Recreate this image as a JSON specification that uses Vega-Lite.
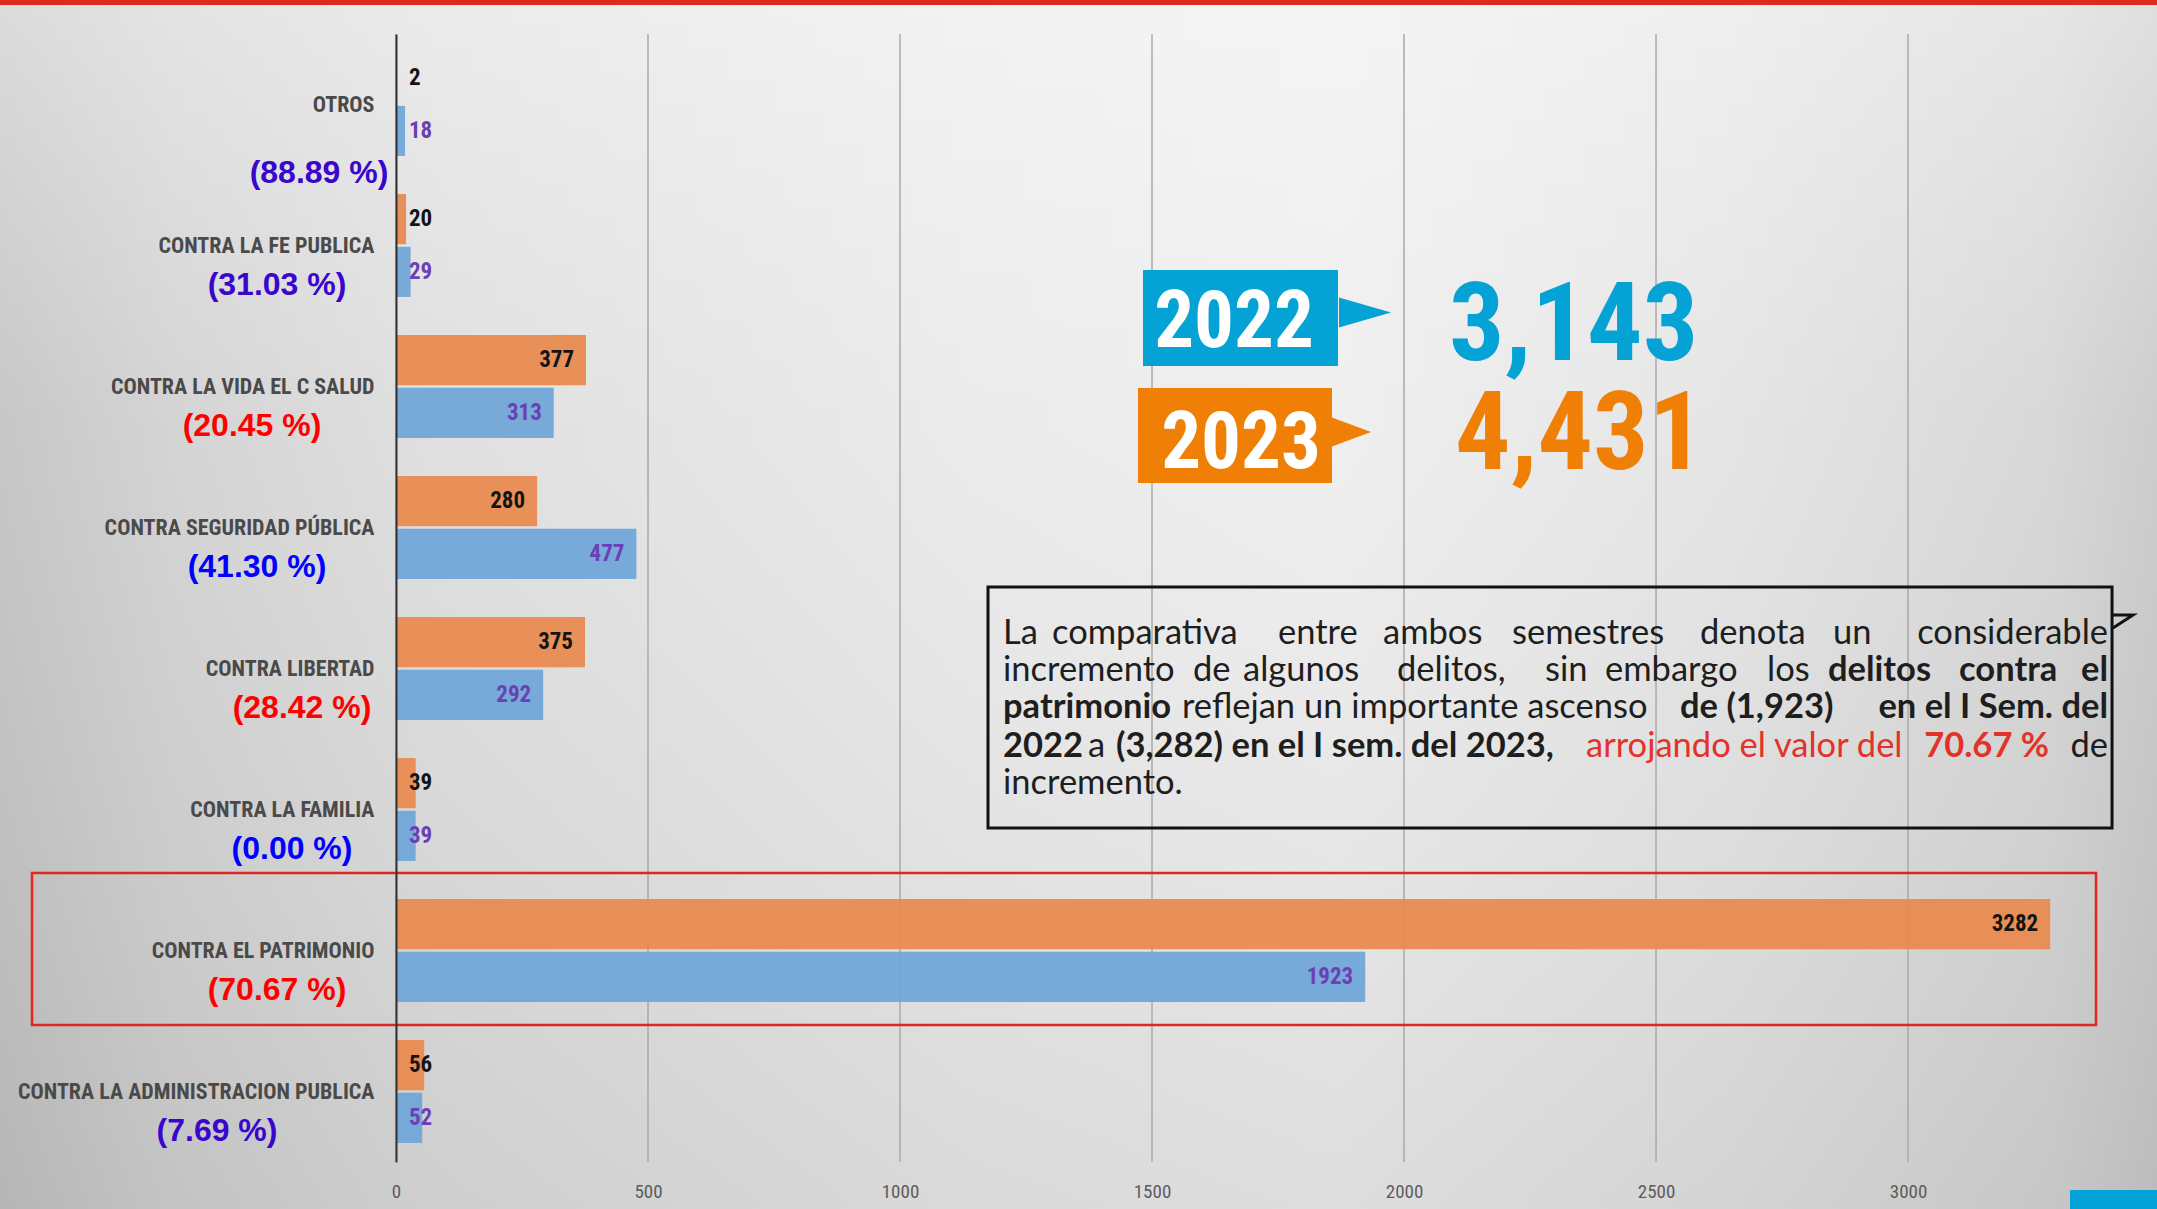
{
  "$schema": "https://vega.github.io/schema/vega-lite/v6.json",
  "width": 1761,
  "height": 1128,
  "autosize": "none",
  "padding": {"left": 396, "top": 34, "right": 0, "bottom": 47},
  "background": "#d9d9d9",
  "config": {
    "view": {"stroke": null},
    "axisX": {"grid": false, "domain": false, "ticks": false, "tickCount": 7, "labelPadding": 20, "labelFontSize": 19, "labelFont": "Roboto Condensed, Roboto, sans-serif", "labelColor": "#5c5c5c", "labelFlush": false, "format": "d"}
  },
  "datasets": {
    "delitos": [
      {"delito": "OTROS", "anio": "2023", "casos": 2},
      {"delito": "OTROS", "anio": "2022", "casos": 18},
      {"delito": "CONTRA LA FE PUBLICA", "anio": "2023", "casos": 20},
      {"delito": "CONTRA LA FE PUBLICA", "anio": "2022", "casos": 29},
      {"delito": "CONTRA LA VIDA EL C SALUD", "anio": "2023", "casos": 377},
      {"delito": "CONTRA LA VIDA EL C SALUD", "anio": "2022", "casos": 313},
      {"delito": "CONTRA SEGURIDAD PÚBLICA", "anio": "2023", "casos": 280},
      {"delito": "CONTRA SEGURIDAD PÚBLICA", "anio": "2022", "casos": 477},
      {"delito": "CONTRA LIBERTAD", "anio": "2023", "casos": 375},
      {"delito": "CONTRA LIBERTAD", "anio": "2022", "casos": 292},
      {"delito": "CONTRA LA FAMILIA", "anio": "2023", "casos": 39},
      {"delito": "CONTRA LA FAMILIA", "anio": "2022", "casos": 39},
      {"delito": "CONTRA EL PATRIMONIO", "anio": "2023", "casos": 3282},
      {"delito": "CONTRA EL PATRIMONIO", "anio": "2022", "casos": 1923},
      {"delito": "CONTRA LA ADMINISTRACION PUBLICA", "anio": "2023", "casos": 56},
      {"delito": "CONTRA LA ADMINISTRACION PUBLICA", "anio": "2022", "casos": 52}
    ],
    "categorias": [
      {"delito": "OTROS", "variacion": "(88.89 %)"},
      {"delito": "CONTRA LA FE PUBLICA", "variacion": "(31.03 %)"},
      {"delito": "CONTRA LA VIDA EL C SALUD", "variacion": "(20.45 %)"},
      {"delito": "CONTRA SEGURIDAD PÚBLICA", "variacion": "(41.30 %)"},
      {"delito": "CONTRA LIBERTAD", "variacion": "(28.42 %)"},
      {"delito": "CONTRA LA FAMILIA", "variacion": "(0.00 %)"},
      {"delito": "CONTRA EL PATRIMONIO", "variacion": "(70.67 %)"},
      {"delito": "CONTRA LA ADMINISTRACION PUBLICA", "variacion": "(7.69 %)"}
    ],
    "escala": [{"valor": 0}, {"valor": 500}, {"valor": 1000}, {"valor": 1500}, {"valor": 2000}, {"valor": 2500}, {"valor": 3000}],
    "vacio": [{}]
  },
  "layer": [
    {
      "data": {"name": "vacio"},
      "mark": {"type": "rect", "stroke": null, "fill": {"gradient": "linear", "x1": 0, "y1": 0, "x2": 1, "y2": 0, "stops": [
        {"offset": 0, "color": "#c4c4c4"}, {"offset": 0.08, "color": "#d2d2d2"}, {"offset": 0.2, "color": "#dedede"},
        {"offset": 0.45, "color": "#eaeaea"}, {"offset": 0.62, "color": "#eeeeee"}, {"offset": 0.8, "color": "#e4e4e4"},
        {"offset": 0.95, "color": "#d6d6d6"}, {"offset": 1, "color": "#cacaca"}]}},
      "encoding": {
        "x": {"datum": -785.7, "type": "quantitative", "scale": {"domain": [0, 3494], "nice": false}, "title": null,
          "axis": {"orient": "bottom", "zindex": 1, "values": [0, 500, 1000, 1500, 2000, 2500, 3000, 3500], "format": "d", "labelFlush": false, "grid": false, "domain": false, "ticks": false, "labelPadding": 20, "labelFontSize": 19, "labelFont": "Roboto Condensed, Roboto, sans-serif", "labelColor": "#5c5c5c"}},
        "x2": {"datum": 3494},
        "y": {"datum": -0.2411, "type": "quantitative", "scale": {"domain": [0, 8], "reverse": true, "nice": false, "zero": false}, "axis": null},
        "y2": {"datum": 8.3333}
      }
    },
    {
      "data": {"name": "vacio"},
      "mark": {"type": "rect", "stroke": null, "fill": {"gradient": "linear", "x1": 0, "y1": 0, "x2": 0, "y2": 1, "stops": [
        {"offset": 0, "color": "rgba(255,255,255,0.4)"}, {"offset": 0.35, "color": "rgba(255,255,255,0.05)"},
        {"offset": 1, "color": "rgba(0,0,0,0.07)"}]}},
      "encoding": {
        "x": {"datum": -785.7, "type": "quantitative", "scale": {"domain": [0, 3494], "nice": false}, "title": null},
        "x2": {"datum": 3494},
        "y": {"datum": -0.2411, "type": "quantitative", "scale": {"domain": [0, 8], "reverse": true, "nice": false, "zero": false}, "axis": null},
        "y2": {"datum": 8.3333}
      }
    },
    {
      "data": {"name": "escala"},
      "mark": {"type": "rule", "color": "#a9a9a9", "strokeWidth": 1.5},
      "encoding": {
        "x": {"field": "valor", "type": "quantitative", "scale": {"domain": [0, 3494], "nice": false}, "title": null},
        "y": {"datum": 0, "type": "quantitative", "scale": {"domain": [0, 8], "reverse": true, "nice": false, "zero": false}, "axis": null},
        "y2": {"datum": 8}
      }
    },
    {
      "data": {"name": "delitos"},
      "encoding": {
        "y": {"field": "delito", "type": "nominal",
          "scale": {"domain": ["OTROS", "CONTRA LA FE PUBLICA", "CONTRA LA VIDA EL C SALUD", "CONTRA SEGURIDAD PÚBLICA", "CONTRA LIBERTAD", "CONTRA LA FAMILIA", "CONTRA EL PATRIMONIO", "CONTRA LA ADMINISTRACION PUBLICA"], "paddingInner": 0.27, "paddingOuter": 0.135},
          "axis": {"title": null, "ticks": false, "domain": true, "domainColor": "#333333", "domainWidth": 2, "labelPadding": 22, "labelFontSize": 22, "labelFont": "Roboto Condensed, Roboto, sans-serif", "labelFontWeight": "bold", "labelColor": "#4a4a4a", "labelLimit": 0, "zindex": 1}}
      },
      "layer": [
        {
          "mark": {"type": "bar", "opacity": 0.93},
          "encoding": {
            "x": {"field": "casos", "type": "quantitative", "scale": {"domain": [0, 3494], "nice": false}, "title": null,
              "axis": {"orient": "bottom", "zindex": 1, "values": [0, 500, 1000, 1500, 2000, 2500, 3000, 3500], "format": "d", "labelFlush": false, "grid": false, "domain": false, "ticks": false, "labelPadding": 20, "labelFontSize": 19, "labelFont": "Roboto Condensed, Roboto, sans-serif", "labelColor": "#5c5c5c"}},
            "yOffset": {"field": "anio", "type": "nominal", "scale": {"domain": ["2023", "2022"], "paddingInner": 0.05}},
            "color": {"field": "anio", "type": "nominal", "scale": {"domain": ["2023", "2022"], "range": ["#E98A4D", "#6FA5D8"]}, "legend": null}
          }
        },
        {
          "transform": [{"filter": "datum.casos >= 100"}],
          "mark": {"type": "text", "align": "right", "baseline": "middle", "dx": -12, "fontSize": 23, "fontWeight": "bold", "font": "Roboto Condensed, Roboto, sans-serif"},
          "encoding": {
            "x": {"field": "casos", "type": "quantitative", "scale": {"domain": [0, 3494], "nice": false}, "title": null},
            "yOffset": {"field": "anio", "type": "nominal", "scale": {"domain": ["2023", "2022"], "paddingInner": 0.05}},
            "text": {"field": "casos", "type": "quantitative"},
            "color": {"field": "anio", "type": "nominal", "scale": {"domain": ["2023", "2022"], "range": ["#141414", "#6b40b5"]}, "legend": null}
          }
        },
        {
          "transform": [{"filter": "datum.casos < 100"}],
          "mark": {"type": "text", "align": "left", "baseline": "middle", "dx": 13, "fontSize": 23, "fontWeight": "bold", "font": "Roboto Condensed, Roboto, sans-serif"},
          "encoding": {
            "x": {"datum": 0, "type": "quantitative", "scale": {"domain": [0, 3494], "nice": false}, "title": null},
            "yOffset": {"field": "anio", "type": "nominal", "scale": {"domain": ["2023", "2022"], "paddingInner": 0.05}},
            "text": {"field": "casos", "type": "quantitative"},
            "color": {"field": "anio", "type": "nominal", "scale": {"domain": ["2023", "2022"], "range": ["#141414", "#6b40b5"]}, "legend": null}
          }
        },
        {
          "data": {"name": "categorias"},
          "transform": [{"filter": "datum.delito != 'OTROS'"}],
          "mark": {"type": "text", "align": "center", "baseline": "middle", "dy": 39, "dx": {"expr": "-19 - length(datum.delito) * 5"}, "fontSize": 32, "fontWeight": "bold", "font": "Liberation Sans, Arial, sans-serif"},
          "encoding": {
            "x": {"datum": 0, "type": "quantitative", "scale": {"domain": [0, 3494], "nice": false}, "title": null},
            "text": {"field": "variacion", "type": "nominal"},
            "color": {"field": "delito", "type": "nominal", "scale": {"domain": ["OTROS", "CONTRA LA FE PUBLICA", "CONTRA LA VIDA EL C SALUD", "CONTRA SEGURIDAD PÚBLICA", "CONTRA LIBERTAD", "CONTRA LA FAMILIA", "CONTRA EL PATRIMONIO", "CONTRA LA ADMINISTRACION PUBLICA"], "range": ["#3a06cc", "#3a06cc", "#ff0000", "#0000ff", "#ff0000", "#0000ff", "#ff0000", "#3a06cc"]}, "legend": null}
          }
        },
        {
          "data": {"name": "categorias"},
          "transform": [{"filter": "datum.delito == 'OTROS'"}],
          "mark": {"type": "text", "align": "center", "baseline": "middle", "dy": 68, "dx": -77, "fontSize": 32, "fontWeight": "bold", "font": "Liberation Sans, Arial, sans-serif", "color": "#3a06cc"},
          "encoding": {
            "x": {"datum": 0, "type": "quantitative", "scale": {"domain": [0, 3494], "nice": false}, "title": null},
            "text": {"field": "variacion", "type": "nominal"}
          }
        }
      ],
      "resolve": {"scale": {"color": "independent"}}
    },
    {
      "data": {"name": "vacio"},
      "mark": {"type": "rect", "fillOpacity": 0, "stroke": "#e0261f", "strokeWidth": 2.5},
      "encoding": {
        "x": {"datum": -722.2, "type": "quantitative", "scale": {"domain": [0, 3494], "nice": false}, "title": null},
        "x2": {"datum": 3373},
        "y": {"datum": 5.95, "type": "quantitative", "scale": {"domain": [0, 8], "reverse": true, "nice": false, "zero": false}, "axis": null},
        "y2": {"datum": 7.028}
      }
    },
    {
      "data": {"name": "vacio"},
      "mark": {"type": "rect", "fillOpacity": 0, "stroke": "#111111", "strokeWidth": 3},
      "encoding": {
        "x": {"datum": 1174.6, "type": "quantitative", "scale": {"domain": [0, 3494], "nice": false}, "title": null},
        "x2": {"datum": 3404.8},
        "y": {"datum": 3.922, "type": "quantitative", "scale": {"domain": [0, 8], "reverse": true, "nice": false, "zero": false}, "axis": null},
        "y2": {"datum": 5.631}
      }
    },
    {
      "data": {"name": "vacio"},
      "mark": {"type": "point", "shape": "M-0.62,-0.46L1,-0.46L-0.54,0.54", "size": 676, "filled": false, "stroke": "#111111", "strokeWidth": 3, "opacity": 1},
      "encoding": {
        "x": {"datum": 3420.6, "type": "quantitative", "scale": {"domain": [0, 3494], "nice": false}, "title": null},
        "y": {"datum": 4.163, "type": "quantitative", "scale": {"domain": [0, 8], "reverse": true, "nice": false, "zero": false}, "axis": null}
      }
    },
    {
      "data": {"name": "vacio"},
      "mark": {"type": "rect", "color": "#05a2d6"},
      "encoding": {
        "x": {"datum": 1482.1, "type": "quantitative", "scale": {"domain": [0, 3494], "nice": false}, "title": null},
        "x2": {"datum": 1869},
        "y": {"datum": 1.674, "type": "quantitative", "scale": {"domain": [0, 8], "reverse": true, "nice": false, "zero": false}, "axis": null},
        "y2": {"datum": 2.355}
      }
    },
    {
      "data": {"name": "vacio"},
      "mark": {"type": "point", "shape": "M-1,-0.58L1,0L-1,0.58Z", "size": 2704, "filled": true, "color": "#05a2d6", "opacity": 1},
      "encoding": {
        "x": {"datum": 1922.6, "type": "quantitative", "scale": {"domain": [0, 3494], "nice": false}, "title": null},
        "y": {"datum": 1.975, "type": "quantitative", "scale": {"domain": [0, 8], "reverse": true, "nice": false, "zero": false}, "axis": null}
      }
    },
    {
      "data": {"name": "vacio"},
      "mark": {"type": "text", "text": "2022", "align": "center", "baseline": "alphabetic", "fontSize": 79, "fontWeight": "bold", "font": "Roboto Condensed, Roboto, sans-serif", "color": "#ffffff"},
      "encoding": {
        "x": {"datum": 1662.7, "type": "quantitative", "scale": {"domain": [0, 3494], "nice": false}, "title": null},
        "y": {"datum": 2.22, "type": "quantitative", "scale": {"domain": [0, 8], "reverse": true, "nice": false, "zero": false}, "axis": null}
      }
    },
    {
      "data": {"name": "vacio"},
      "mark": {"type": "text", "text": "3,143", "align": "left", "baseline": "alphabetic", "fontSize": 110, "fontWeight": "bold", "font": "Roboto Condensed, Roboto, sans-serif", "color": "#05a2d6"},
      "encoding": {
        "x": {"datum": 2089.3, "type": "quantitative", "scale": {"domain": [0, 3494], "nice": false}, "title": null},
        "y": {"datum": 2.312, "type": "quantitative", "scale": {"domain": [0, 8], "reverse": true, "nice": false, "zero": false}, "axis": null}
      }
    },
    {
      "data": {"name": "vacio"},
      "mark": {"type": "rect", "color": "#f07f06"},
      "encoding": {
        "x": {"datum": 1472.2, "type": "quantitative", "scale": {"domain": [0, 3494], "nice": false}, "title": null},
        "x2": {"datum": 1857.1},
        "y": {"datum": 2.511, "type": "quantitative", "scale": {"domain": [0, 8], "reverse": true, "nice": false, "zero": false}, "axis": null},
        "y2": {"datum": 3.184}
      }
    },
    {
      "data": {"name": "vacio"},
      "mark": {"type": "point", "shape": "M-1,-0.74L1,0L-1,0.74Z", "size": 1521, "filled": true, "color": "#f07f06", "opacity": 1},
      "encoding": {
        "x": {"datum": 1895.8, "type": "quantitative", "scale": {"domain": [0, 3494], "nice": false}, "title": null},
        "y": {"datum": 2.823, "type": "quantitative", "scale": {"domain": [0, 8], "reverse": true, "nice": false, "zero": false}, "axis": null}
      }
    },
    {
      "data": {"name": "vacio"},
      "mark": {"type": "text", "text": "2023", "align": "center", "baseline": "alphabetic", "fontSize": 79, "fontWeight": "bold", "font": "Roboto Condensed, Roboto, sans-serif", "color": "#ffffff"},
      "encoding": {
        "x": {"datum": 1676.6, "type": "quantitative", "scale": {"domain": [0, 3494], "nice": false}, "title": null},
        "y": {"datum": 3.078, "type": "quantitative", "scale": {"domain": [0, 8], "reverse": true, "nice": false, "zero": false}, "axis": null}
      }
    },
    {
      "data": {"name": "vacio"},
      "mark": {"type": "text", "text": "4,431", "align": "left", "baseline": "alphabetic", "fontSize": 110, "fontWeight": "bold", "font": "Roboto Condensed, Roboto, sans-serif", "color": "#f07f06"},
      "encoding": {
        "x": {"datum": 2101.2, "type": "quantitative", "scale": {"domain": [0, 3494], "nice": false}, "title": null},
        "y": {"datum": 3.085, "type": "quantitative", "scale": {"domain": [0, 8], "reverse": true, "nice": false, "zero": false}, "axis": null}
      }
    },
    {
      "data": {"name": "vacio"},
      "encoding": {
        "x": {"datum": 0, "type": "quantitative", "scale": {"domain": [0, 3494], "nice": false}, "title": null},
        "y": {"datum": 0, "type": "quantitative", "scale": {"domain": [0, 8], "reverse": true, "nice": false, "zero": false}, "axis": null}
      },
      "layer": [
        {"mark": {"type": "text", "text": "La", "align": "left", "fontSize": 34.5, "font": "Lato, Carlito, sans-serif", "color": "#1e1e1e"}, "encoding": {"x": {"datum": 1204.4, "type": "quantitative"}, "y": {"datum": 4.257, "type": "quantitative"}}},
        {"mark": {"type": "text", "text": "comparativa", "align": "left", "fontSize": 34.5, "font": "Lato, Carlito, sans-serif", "color": "#1e1e1e"}, "encoding": {"x": {"datum": 1301.6, "type": "quantitative"}, "y": {"datum": 4.257, "type": "quantitative"}}},
        {"mark": {"type": "text", "text": "entre", "align": "left", "fontSize": 34.5, "font": "Lato, Carlito, sans-serif", "color": "#1e1e1e"}, "encoding": {"x": {"datum": 1750, "type": "quantitative"}, "y": {"datum": 4.257, "type": "quantitative"}}},
        {"mark": {"type": "text", "text": "ambos", "align": "left", "fontSize": 34.5, "font": "Lato, Carlito, sans-serif", "color": "#1e1e1e"}, "encoding": {"x": {"datum": 1958.3, "type": "quantitative"}, "y": {"datum": 4.257, "type": "quantitative"}}},
        {"mark": {"type": "text", "text": "semestres", "align": "left", "fontSize": 34.5, "font": "Lato, Carlito, sans-serif", "color": "#1e1e1e"}, "encoding": {"x": {"datum": 2214.3, "type": "quantitative"}, "y": {"datum": 4.257, "type": "quantitative"}}},
        {"mark": {"type": "text", "text": "denota", "align": "left", "fontSize": 34.5, "font": "Lato, Carlito, sans-serif", "color": "#1e1e1e"}, "encoding": {"x": {"datum": 2587.3, "type": "quantitative"}, "y": {"datum": 4.257, "type": "quantitative"}}},
        {"mark": {"type": "text", "text": "un", "align": "left", "fontSize": 34.5, "font": "Lato, Carlito, sans-serif", "color": "#1e1e1e"}, "encoding": {"x": {"datum": 2851.2, "type": "quantitative"}, "y": {"datum": 4.257, "type": "quantitative"}}},
        {"mark": {"type": "text", "text": "considerable", "align": "right", "fontSize": 34.5, "font": "Lato, Carlito, sans-serif", "color": "#1e1e1e"}, "encoding": {"x": {"datum": 3396.8, "type": "quantitative"}, "y": {"datum": 4.257, "type": "quantitative"}}},
        {"mark": {"type": "text", "text": "incremento", "align": "left", "fontSize": 34.5, "font": "Lato, Carlito, sans-serif", "color": "#1e1e1e"}, "encoding": {"x": {"datum": 1204.4, "type": "quantitative"}, "y": {"datum": 4.52, "type": "quantitative"}}},
        {"mark": {"type": "text", "text": "de", "align": "left", "fontSize": 34.5, "font": "Lato, Carlito, sans-serif", "color": "#1e1e1e"}, "encoding": {"x": {"datum": 1581.3, "type": "quantitative"}, "y": {"datum": 4.52, "type": "quantitative"}}},
        {"mark": {"type": "text", "text": "algunos", "align": "left", "fontSize": 34.5, "font": "Lato, Carlito, sans-serif", "color": "#1e1e1e"}, "encoding": {"x": {"datum": 1680.6, "type": "quantitative"}, "y": {"datum": 4.52, "type": "quantitative"}}},
        {"mark": {"type": "text", "text": "delitos,", "align": "left", "fontSize": 34.5, "font": "Lato, Carlito, sans-serif", "color": "#1e1e1e"}, "encoding": {"x": {"datum": 1986.1, "type": "quantitative"}, "y": {"datum": 4.52, "type": "quantitative"}}},
        {"mark": {"type": "text", "text": "sin", "align": "left", "fontSize": 34.5, "font": "Lato, Carlito, sans-serif", "color": "#1e1e1e"}, "encoding": {"x": {"datum": 2279.8, "type": "quantitative"}, "y": {"datum": 4.52, "type": "quantitative"}}},
        {"mark": {"type": "text", "text": "embargo", "align": "left", "fontSize": 34.5, "font": "Lato, Carlito, sans-serif", "color": "#1e1e1e"}, "encoding": {"x": {"datum": 2398.8, "type": "quantitative"}, "y": {"datum": 4.52, "type": "quantitative"}}},
        {"mark": {"type": "text", "text": "los", "align": "left", "fontSize": 34.5, "font": "Lato, Carlito, sans-serif", "color": "#1e1e1e"}, "encoding": {"x": {"datum": 2720.2, "type": "quantitative"}, "y": {"datum": 4.52, "type": "quantitative"}}},
        {"mark": {"type": "text", "text": "delitos", "align": "left", "fontSize": 34.5, "fontWeight": "bold", "font": "Lato, Carlito, sans-serif", "color": "#1e1e1e"}, "encoding": {"x": {"datum": 2841.3, "type": "quantitative"}, "y": {"datum": 4.52, "type": "quantitative"}}},
        {"mark": {"type": "text", "text": "contra", "align": "left", "fontSize": 34.5, "fontWeight": "bold", "font": "Lato, Carlito, sans-serif", "color": "#1e1e1e"}, "encoding": {"x": {"datum": 3101.2, "type": "quantitative"}, "y": {"datum": 4.52, "type": "quantitative"}}},
        {"mark": {"type": "text", "text": "el", "align": "right", "fontSize": 34.5, "fontWeight": "bold", "font": "Lato, Carlito, sans-serif", "color": "#1e1e1e"}, "encoding": {"x": {"datum": 3396.8, "type": "quantitative"}, "y": {"datum": 4.52, "type": "quantitative"}}},
        {"mark": {"type": "text", "text": "patrimonio", "align": "left", "fontSize": 34.5, "fontWeight": "bold", "font": "Lato, Carlito, sans-serif", "color": "#1e1e1e"}, "encoding": {"x": {"datum": 1204.4, "type": "quantitative"}, "y": {"datum": 4.783, "type": "quantitative"}}},
        {"mark": {"type": "text", "text": "reflejan un importante ascenso", "align": "left", "fontSize": 34.5, "font": "Lato, Carlito, sans-serif", "color": "#1e1e1e"}, "encoding": {"x": {"datum": 1559.5, "type": "quantitative"}, "y": {"datum": 4.783, "type": "quantitative"}}},
        {"mark": {"type": "text", "text": "de (1,923)", "align": "left", "fontSize": 34.5, "fontWeight": "bold", "font": "Lato, Carlito, sans-serif", "color": "#1e1e1e"}, "encoding": {"x": {"datum": 2547.6, "type": "quantitative"}, "y": {"datum": 4.783, "type": "quantitative"}}},
        {"mark": {"type": "text", "text": "en el I Sem. del", "align": "right", "fontSize": 34.5, "fontWeight": "bold", "font": "Lato, Carlito, sans-serif", "color": "#1e1e1e"}, "encoding": {"x": {"datum": 3396.8, "type": "quantitative"}, "y": {"datum": 4.783, "type": "quantitative"}}},
        {"mark": {"type": "text", "text": "2022", "align": "left", "fontSize": 34.5, "fontWeight": "bold", "font": "Lato, Carlito, sans-serif", "color": "#1e1e1e"}, "encoding": {"x": {"datum": 1204.4, "type": "quantitative"}, "y": {"datum": 5.056, "type": "quantitative"}}},
        {"mark": {"type": "text", "text": "a", "align": "left", "fontSize": 34.5, "font": "Lato, Carlito, sans-serif", "color": "#1e1e1e"}, "encoding": {"x": {"datum": 1373, "type": "quantitative"}, "y": {"datum": 5.056, "type": "quantitative"}}},
        {"mark": {"type": "text", "text": "(3,282) en el I sem. del 2023,", "align": "left", "fontSize": 34.5, "fontWeight": "bold", "font": "Lato, Carlito, sans-serif", "color": "#1e1e1e"}, "encoding": {"x": {"datum": 1428.6, "type": "quantitative"}, "y": {"datum": 5.056, "type": "quantitative"}}},
        {"mark": {"type": "text", "text": "arrojando el valor del", "align": "left", "fontSize": 34.5, "font": "Lato, Carlito, sans-serif", "color": "#e3322a"}, "encoding": {"x": {"datum": 2361.1, "type": "quantitative"}, "y": {"datum": 5.056, "type": "quantitative"}}},
        {"mark": {"type": "text", "text": "70.67 %", "align": "right", "fontSize": 34.5, "fontWeight": "bold", "font": "Lato, Carlito, sans-serif", "color": "#e3322a"}, "encoding": {"x": {"datum": 3279.8, "type": "quantitative"}, "y": {"datum": 5.056, "type": "quantitative"}}},
        {"mark": {"type": "text", "text": "de", "align": "right", "fontSize": 34.5, "font": "Lato, Carlito, sans-serif", "color": "#1e1e1e"}, "encoding": {"x": {"datum": 3396.8, "type": "quantitative"}, "y": {"datum": 5.056, "type": "quantitative"}}},
        {"mark": {"type": "text", "text": "incremento.", "align": "left", "fontSize": 34.5, "font": "Lato, Carlito, sans-serif", "color": "#1e1e1e"}, "encoding": {"x": {"datum": 1204.4, "type": "quantitative"}, "y": {"datum": 5.32, "type": "quantitative"}}}
      ]
    },
    {
      "data": {"name": "vacio"},
      "mark": {"type": "rect", "color": "#03a3d8"},
      "encoding": {
        "x": {"datum": 3321.4, "type": "quantitative", "scale": {"domain": [0, 3494], "nice": false}, "title": null},
        "x2": {"datum": 3494},
        "y": {"datum": 8.199, "type": "quantitative", "scale": {"domain": [0, 8], "reverse": true, "nice": false, "zero": false}, "axis": null},
        "y2": {"datum": 8.3333}
      }
    },
    {
      "data": {"name": "vacio"},
      "mark": {"type": "rect", "color": "#dc2a1e"},
      "encoding": {
        "x": {"datum": -785.7, "type": "quantitative", "scale": {"domain": [0, 3494], "nice": false}, "title": null},
        "x2": {"datum": 3494},
        "y": {"datum": -0.2411, "type": "quantitative", "scale": {"domain": [0, 8], "reverse": true, "nice": false, "zero": false}, "axis": null},
        "y2": {"datum": -0.2057}
      }
    }
  ],
  "resolve": {"scale": {"y": "independent", "color": "independent"}}
}
